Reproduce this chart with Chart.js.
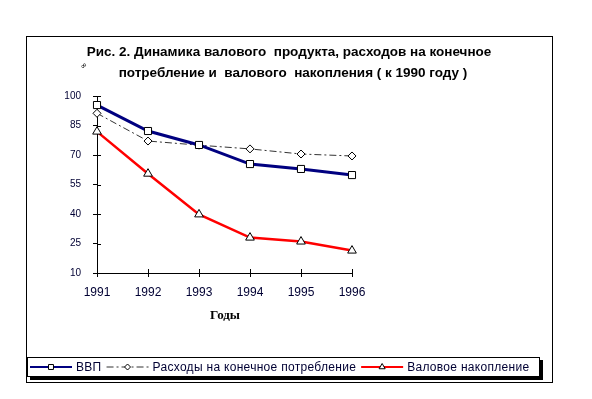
<!DOCTYPE html>
<html>
<head>
<meta charset="utf-8">
<script src="https://cdn.jsdelivr.net/npm/chart.js@4"></script>
<style>
  body { margin: 0; background: #fff; }
  #wrap { width: 592px; height: 399px; }
</style>
</head>
<body>
<div id="wrap"><canvas id="chart" width="592" height="399"></canvas></div>
<script>
// Chart data (index to 1990 = 100)
const years = ['1991', '1992', '1993', '1994', '1995', '1996'];
const gdp = [95.4, 82.2, 75.1, 65.4, 62.9, 59.8];
const consumption = [91.2, 77.1, 75.0, 73.1, 70.5, 69.5];
const accumulation = [81.9, 60.5, 39.8, 28.0, 26.0, 21.4];
const yTicks = [10, 25, 40, 55, 70, 85, 100];
const seriesNames = ['ВВП', 'Расходы на конечное потребление', 'Валовое накопление'];
const titleLines = [
    'Рис. 2. Динамика валового  продукта, расходов на конечное',
    'потребление и  валового  накопления ( к 1990 году )'
];
const xAxisTitle = 'Годы';

const labelColor = '#000033';

// Frame, title, axis title, inner tick marks and legend
const decorPlugin = {
    id: 'decor',
    beforeDraw(chart) {
        const ctx = chart.ctx;
        ctx.save();
        ctx.fillStyle = '#fff';
        ctx.fillRect(0, 0, chart.width, chart.height);
        ctx.strokeStyle = '#000';
        ctx.lineWidth = 1;
        ctx.strokeRect(26.5, 36.5, 526, 346);

        // title
        ctx.fillStyle = '#000';
        ctx.font = 'bold 13.5px "Liberation Sans", Arial, sans-serif';
        ctx.textAlign = 'center';
        ctx.textBaseline = 'middle';
        ctx.fillText(titleLines[0], 289, 52);
        ctx.fillText(titleLines[1], 293, 73);

        // small stray glyph left of the title
        ctx.save();
        ctx.translate(84, 66);
        ctx.rotate(-0.7);
        ctx.font = '8px "DejaVu Sans", sans-serif';
        ctx.fillText('∞', 0, 0);
        ctx.restore();

        // axis title
        ctx.font = 'bold 13px "Liberation Serif", "Times New Roman", serif';
        ctx.fillText(xAxisTitle, 225, 316);
        ctx.restore();
    },
    afterDatasetsDraw(chart) {
        const ctx = chart.ctx;
        const xs = chart.scales.x;
        const ys = chart.scales.y;
        const area = chart.chartArea;
        ctx.save();
        ctx.strokeStyle = '#000';
        ctx.lineWidth = 1;
        ctx.beginPath();
        // inner parts of tick marks (ticks cross the axes)
        years.forEach((y, i) => {
            const px = Math.round(xs.getPixelForValue(i)) + 0.5;
            ctx.moveTo(px, area.bottom);
            ctx.lineTo(px, area.bottom - 4);
        });
        yTicks.forEach(v => {
            const py = Math.round(ys.getPixelForValue(v)) + 0.5;
            ctx.moveTo(area.left, py);
            ctx.lineTo(area.left + 4, py);
        });
        ctx.stroke();
        ctx.restore();
    },
    afterDraw(chart) {
        const ctx = chart.ctx;
        ctx.save();
        // legend box with shadow
        const bx = 27, by = 357, bw = 513, bh = 20;
        ctx.fillStyle = '#000';
        ctx.fillRect(bx + 3, by + 3, bw, bh);
        ctx.fillStyle = '#fff';
        ctx.fillRect(bx, by, bw, bh);
        ctx.strokeStyle = '#000';
        ctx.lineWidth = 1;
        ctx.strokeRect(bx + 0.5, by + 0.5, bw - 1, bh - 1);

        ctx.font = '12px "Liberation Sans", Arial, sans-serif';
        ctx.letterSpacing = '0.3px';
        ctx.textAlign = 'left';
        ctx.textBaseline = 'middle';
        const cy = by + bh / 2;
        let x = 30;
        const legendRadius = [3.5, 3, 3.5];
        chart.data.datasets.forEach((ds, i) => {
            // line sample
            ctx.save();
            ctx.strokeStyle = ds.borderColor;
            ctx.lineWidth = Math.min(ds.borderWidth, 2);
            ctx.setLineDash(ds.borderDash || []);
            ctx.beginPath();
            ctx.moveTo(x, cy);
            ctx.lineTo(x + 42, cy);
            ctx.stroke();
            ctx.restore();
            // marker
            ctx.save();
            ctx.fillStyle = ds.pointBackgroundColor;
            ctx.strokeStyle = ds.pointBorderColor;
            ctx.lineWidth = 1;
            Chart.helpers.drawPoint(ctx, {
                pointStyle: ds.pointStyle,
                radius: legendRadius[i],
                rotation: 0,
                borderWidth: 1
            }, x + 21, cy);
            ctx.restore();
            // text
            ctx.fillStyle = labelColor;
            ctx.fillText(ds.label, x + 46, cy + 0.5);
            x += 46 + ctx.measureText(ds.label).width + 5;
        });
        ctx.restore();
    }
};

const ctx = document.getElementById('chart').getContext('2d');
const chart = new Chart(ctx, {
    type: 'line',
    data: {
        labels: years,
        datasets: [{
            label: seriesNames[0],
            data: gdp,
            borderColor: '#000080',
            borderWidth: 3,
            pointStyle: 'rect',
            pointRadius: 5,
            pointBackgroundColor: '#fff',
            pointBorderColor: '#000',
            pointBorderWidth: 1,
            clip: false,
            tension: 0
        }, {
            label: seriesNames[1],
            data: consumption,
            borderColor: '#333333',
            borderWidth: 1,
            borderDash: [7, 3, 2, 3],
            pointStyle: 'rectRot',
            pointRadius: 4,
            pointBackgroundColor: '#fff',
            pointBorderColor: '#000',
            pointBorderWidth: 1,
            clip: false,
            tension: 0
        }, {
            label: seriesNames[2],
            data: accumulation,
            borderColor: '#ff0000',
            borderWidth: 2.5,
            pointStyle: 'triangle',
            pointRadius: 5,
            pointBackgroundColor: '#fff',
            pointBorderColor: '#000',
            pointBorderWidth: 1,
            clip: false,
            tension: 0
        }]
    },
    options: {
        responsive: false,
        animation: false,
        events: [],
        layout: {
            padding: { left: 0, right: 240, top: 96, bottom: 96 }
        },
        plugins: {
            legend: { display: false },
            tooltip: { enabled: false },
            title: { display: false }
        },
        scales: {
            x: {
                type: 'category',
                offset: false,
                grid: { drawOnChartArea: false, tickLength: 4, color: '#000' },
                border: { color: '#000', width: 1 },
                ticks: {
                    font: { family: '"Liberation Sans", Arial, sans-serif', size: 12 },
                    color: labelColor,
                    padding: 8,
                    maxRotation: 0,
                    autoSkip: false
                },
                afterFit(scale) { scale.height = 30; }
            },
            y: {
                min: 10,
                max: 100,
                grid: { drawOnChartArea: false, tickLength: 4, color: '#000' },
                border: { color: '#000', width: 1 },
                ticks: {
                    stepSize: 15,
                    font: { family: '"Liberation Sans", Arial, sans-serif', size: 10 },
                    color: labelColor,
                    padding: 12
                },
                afterBuildTicks(scale) {
                    scale.ticks = yTicks.map(v => ({ value: v }));
                },
                afterFit(scale) { scale.width = 97; }
            }
        }
    },
    plugins: [decorPlugin]
});
</script>
</body>
</html>
